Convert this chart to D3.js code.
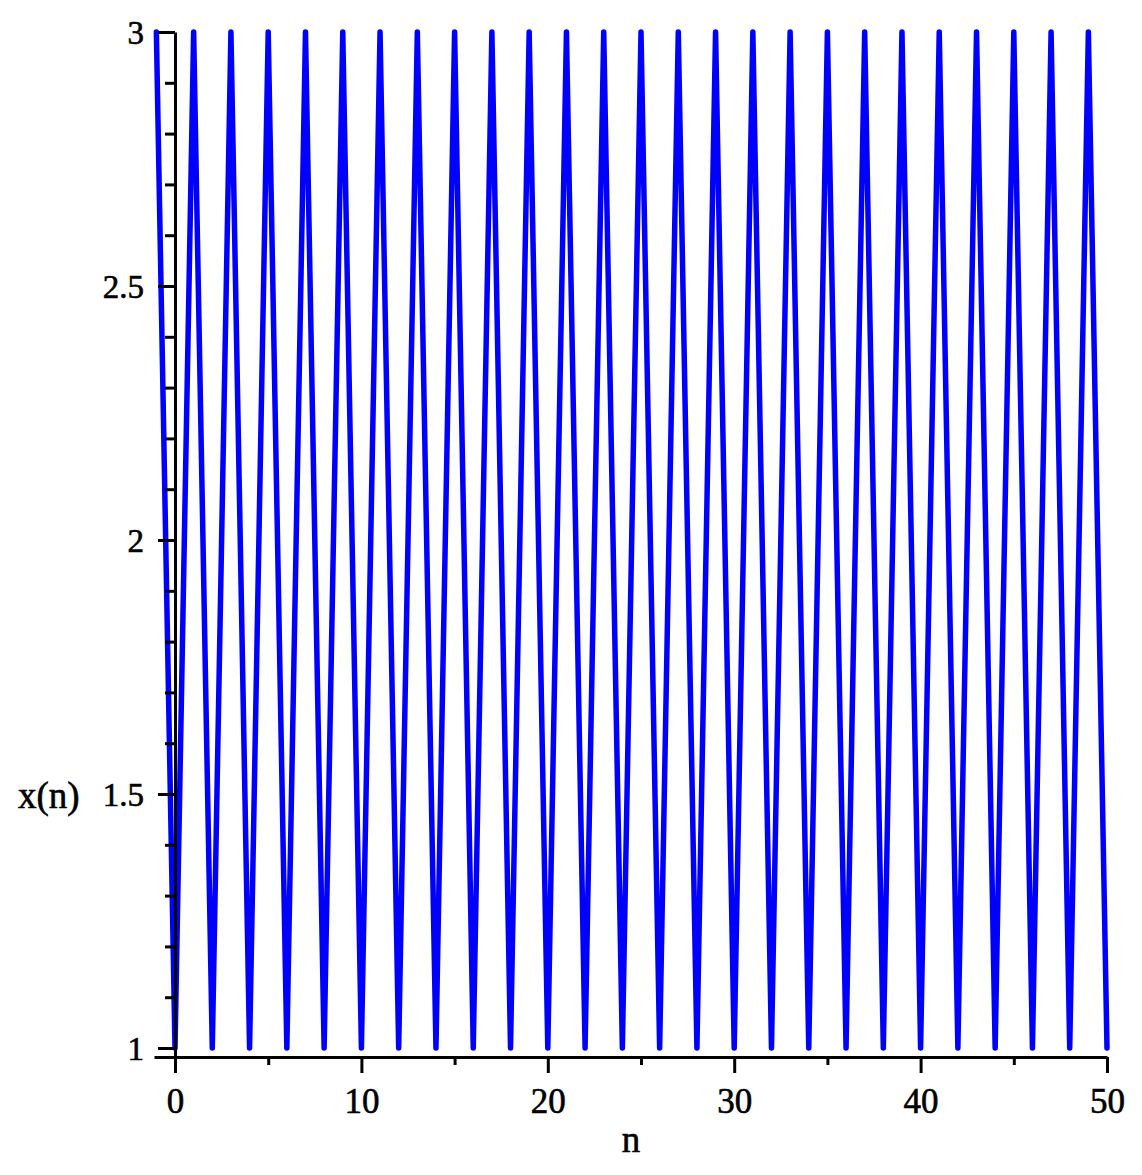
<!DOCTYPE html>
<html>
<head>
<meta charset="utf-8">
<script src="https://cdn.jsdelivr.net/npm/d3@7"></script>
<style>
  html, body { margin: 0; padding: 0; background: #fff; }
  svg { display: block; }
  text { font-family: "Liberation Serif", "Times New Roman", serif; fill: #000; stroke: #000; stroke-width: 0.6px; }
</style>
</head>
<body>
<svg id="chart" width="1142" height="1175"></svg>
<script>
// ---- data ----
const nValues = [-1,0,1,2,3,4,5,6,7,8,9,10,11,12,13,14,15,16,17,18,19,20,21,22,23,24,25,
  26,27,28,29,30,31,32,33,34,35,36,37,38,39,40,41,42,43,44,45,46,47,48,49,50];
const xValues = [3,1,3,1,3,1,3,1,3,1,3,1,3,1,3,1,3,1,3,1,3,1,3,1,3,1,3,
  1,3,1,3,1,3,1,3,1,3,1,3,1,3,1,3,1,3,1,3,1,3,1,3,1];
const xMajorTicks = [0, 10, 20, 30, 40, 50];
const xMinorTicks = [5, 15, 25, 35, 45];
const yMajorTicks = [1, 1.5, 2, 2.5, 3];
const yMajorLabels = ["1", "1.5", "2", "2.5", "3"];
const yMinorTicks = [1.1,1.2,1.3,1.4,1.6,1.7,1.8,1.9,2.1,2.2,2.3,2.4,2.6,2.7,2.8,2.9];
const xTitle = "n";
const yTitle = "x(n)";

const points = nValues.map((n, i) => ({ n, v: xValues[i] }));

const svg = d3.select("#chart");

const x = d3.scaleLinear().domain([-1.127, 50]).range([154, 1107]);
const y = d3.scaleLinear().domain([0.9823, 3]).range([1057, 32]);

// data line
const line = d3.line().x(d => x(d.n)).y(d => y(d.v));
svg.append("path")
  .datum(points)
  .attr("d", line)
  .attr("fill", "none")
  .attr("stroke", "#0000ff")
  .attr("stroke-width", 5.5)
  .attr("stroke-linejoin", "round")
  .attr("stroke-linecap", "round");

const axisStroke = 3;

// x axis
const gx = svg.append("g").attr("transform", `translate(0,${y(0.9823)})`);
gx.call(d3.axisBottom(x).tickValues(xMajorTicks).tickSize(16).tickSizeOuter(0).tickFormat(d3.format("d")));
gx.append("g").call(d3.axisBottom(x).tickValues(xMinorTicks).tickSize(8).tickSizeOuter(0).tickFormat(""))
  .select(".domain").remove();
gx.selectAll("path.domain").attr("stroke", "#000").attr("stroke-width", axisStroke);
gx.selectAll(".tick line").attr("stroke", "#000").attr("stroke-width", axisStroke);
gx.selectAll(".tick text")
  .attr("y", 56).attr("dy", 0)
  .style("font-size", "35px");

// y axis
const gy = svg.append("g").attr("transform", `translate(${x(0)},0)`);
gy.call(d3.axisLeft(y).tickValues(yMajorTicks).tickSize(17).tickPadding(14).tickSizeOuter(0)
  .tickFormat((d, i) => yMajorLabels[i]));
gy.append("g").call(d3.axisLeft(y).tickValues(yMinorTicks).tickSize(10).tickSizeOuter(0).tickFormat(""))
  .select(".domain").remove();
gy.selectAll("path.domain").attr("stroke", "#000").attr("stroke-width", axisStroke);
gy.selectAll(".tick line").attr("stroke", "#000").attr("stroke-width", axisStroke);
gy.selectAll(".tick text")
  .attr("dy", "0.34em")
  .style("font-size", "33px");

// axis titles
svg.append("text")
  .attr("x", 631).attr("y", 1152)
  .attr("text-anchor", "middle")
  .style("font-size", "37px")
  .text(xTitle);

svg.append("text")
  .attr("x", 18).attr("y", 808)
  .attr("text-anchor", "start")
  .style("font-size", "37px")
  .text(yTitle);
</script>
</body>
</html>
